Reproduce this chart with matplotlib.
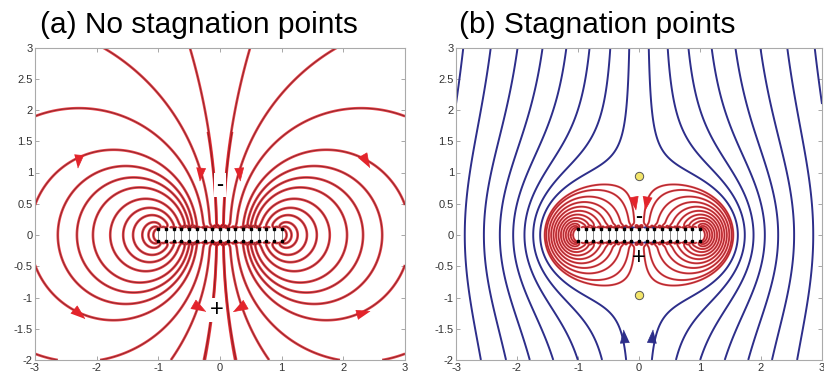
import numpy as np
import matplotlib.pyplot as plt

plt.rcParams['font.family'] = ['Liberation Sans', 'DejaVu Sans']

# double layer: negative charges on the top row, positive on the bottom row
layer_x = [-1.0, -0.875, -0.75, -0.625, -0.5, -0.375, -0.25, -0.125, 0.0,
           0.125, 0.25, 0.375, 0.5, 0.625, 0.75, 0.875, 1.0]
layer_gap = 0.1

# (a) points that the drawn field lines pass through (left half, mirrored)
lines_a_x = [-0.49, -1.9, -3.0, -3.0, -2.63, -2.32, -2.06, -1.78, -1.57,
             -1.41, -1.26, -1.16, -1.08]
lines_a_y = [3.0, 3.0, 1.9, 0.48, 0, 0, 0, 0, 0, 0, 0, 0, 0]
# short central line, drawn only up to center_top
center_pt = (-0.07, 0.5)
center_top = 1.65

# (b) uniform field added, stagnation points on the axis
stag_y = [0.95, -0.96]
blue_top_x = [0.16, 0.47, 0.81, 1.19, 1.58, 1.99, 2.43, 2.88]
red_axis_x = [-1.545, -1.52, -1.48, -1.44, -1.40, -1.36, -1.32, -1.28,
              -1.24, -1.20, -1.16, -1.12, -1.08]

# arrow heads: x, y, direction in degrees
arrows_a = [(-2.3, 1.2, -95), (2.35, 1.2, -60), (-0.32, 1.0, -95),
            (0.3, 1.0, -85), (-0.35, -1.15, -30), (0.33, -1.15, -150),
            (-2.3, -1.25, -40), (2.3, -1.25, 15)]
arrows_b_red = [(-0.08, 0.53, -80), (0.11, 0.53, -100)]
arrows_b_blue = [(-0.24, -1.63, 95), (0.21, -1.63, 85)]

RED = '#e3242b'
RED_CORE = '#7a1e24'
BLUE = '#2d2e8a'


def psi_layer(x, y):
    x = np.asarray(x, float)
    y = np.asarray(y, float)
    s = np.zeros(np.broadcast(x, y).shape)
    for xi in layer_x:
        s += np.arctan2(x - xi, -(y + layer_gap))
        s -= np.arctan2(x - xi, -(y - layer_gap))
    return s


def ey_layer(x, y):
    e = 0.0
    for xi in layer_x:
        e += (y + layer_gap) / ((x - xi) ** 2 + (y + layer_gap) ** 2)
        e -= (y - layer_gap) / ((x - xi) ** 2 + (y - layer_gap) ** 2)
    return e


gx = np.linspace(-3, 3, 1201)
gy = np.linspace(-2, 3, 1001)
X, Y = np.meshgrid(gx, gy)
in_layer = (np.abs(X) <= 1.01) & (np.abs(Y) <= layer_gap + 0.005)

E0 = -ey_layer(0.0, stag_y[0])
psi_a = psi_layer(X, Y)
psi_b = psi_a - E0 * X


def red_contour(ax, Z, levels, lw=1.9, core=0.7):
    ax.contour(X, Y, Z, levels=levels, colors=RED, linewidths=lw,
               linestyles='solid', alpha=0.85)
    ax.contour(X, Y, Z, levels=levels, colors=RED_CORE, linewidths=core,
               linestyles='solid', alpha=0.8)


def draw_layer(ax):
    ax.vlines(layer_x, -layer_gap, layer_gap, color='#888888', lw=0.7,
              zorder=4)
    ax.plot(layer_x, [layer_gap] * len(layer_x), 's', color='k', ms=1.7,
            zorder=5)
    ax.plot(layer_x, [-layer_gap] * len(layer_x), 's', color='k', ms=1.7,
            zorder=5)


def head(ang):
    a = np.deg2rad(ang)
    pts = np.array([[1.0, 0.0], [-0.7, 0.6], [-0.7, -0.6]])
    rot = np.array([[np.cos(a), -np.sin(a)], [np.sin(a), np.cos(a)]])
    return [tuple(p) for p in pts @ rot.T]


def arrow_heads(ax, arrows, color):
    for x, y, ang in arrows:
        ax.plot(x, y, marker=head(ang), color=color, ms=11, mec=color,
                mew=0.5, zorder=6)


def style_axes(ax):
    ax.set_xlim(-3, 3)
    ax.set_ylim(-2, 3)
    ax.set_xticks(np.arange(-3, 4, 1))
    ax.set_yticks(np.arange(-2, 3.01, 0.5))
    ax.set_yticklabels(['-2', '-1.5', '-1', '-0.5', '0', '0.5', '1', '1.5',
                        '2', '2.5', '3'])
    ax.set_xticklabels(['-3', '-2', '-1', '0', '1', '2', '3'])
    ax.tick_params(direction='in', length=3, width=0.6, color='#999999',
                   labelsize=8, labelcolor='#333333', pad=1.5,
                   top=True, right=True)
    ax.tick_params(axis='x', pad=2.5)
    for sp in ax.spines.values():
        sp.set_color('#aaaaaa')
        sp.set_linewidth(0.8)


fig = plt.figure(figsize=(8.24, 3.75), dpi=100)
ax1 = fig.add_axes([35 / 824, 15 / 375, 370 / 824, 312.5 / 375])
ax2 = fig.add_axes([456 / 824, 15 / 375, 366 / 824, 312.5 / 375])

# (a) field of the double layer alone
lev_a = psi_layer(np.array(lines_a_x), np.array(lines_a_y))
lev_a = np.unique(np.round(np.concatenate([lev_a, -lev_a]), 6))
Za = np.ma.masked_where(in_layer, psi_a)
red_contour(ax1, Za, lev_a)
lev_c = float(psi_layer(center_pt[0], center_pt[1]))
Zc = np.ma.masked_where(in_layer | (Y > center_top), psi_a)
red_contour(ax1, Zc, sorted([lev_c, -lev_c]))
draw_layer(ax1)
arrow_heads(ax1, arrows_a, RED)
ax1.text(0, 0.8, '-', ha='center', va='center', fontsize=15,
         fontweight='bold', zorder=7,
         bbox=dict(fc='white', ec='none', pad=2))
ax1.text(-0.05, -1.2, '+', ha='center', va='center', fontsize=17,
         zorder=7, bbox=dict(fc='white', ec='none', pad=1))
style_axes(ax1)

# (b) double layer plus uniform upward field
inside = psi_b * X > 0
rx = np.array(red_axis_x)
lev_red = psi_layer(rx, 0.0) - E0 * rx
lev_red = np.sort(np.concatenate([lev_red, -lev_red]))
bx = np.array(blue_top_x)
lev_blue = psi_layer(bx, 3.0) - E0 * bx
lev_blue = np.sort(np.concatenate([lev_blue, -lev_blue]))

Zr = np.ma.masked_where(in_layer | ~inside, psi_b)
Zb = np.ma.masked_where(in_layer | inside, psi_b)
red_contour(ax2, Zr, lev_red, lw=1.5, core=0.5)
ax2.contour(X, Y, Zb, levels=lev_blue, colors=BLUE, linewidths=1.4,
            linestyles='solid')
draw_layer(ax2)
arrow_heads(ax2, arrows_b_red, RED)
arrow_heads(ax2, arrows_b_blue, BLUE)
ax2.plot([0, 0], stag_y, 'o', ms=6, mfc='#f3e56a', mec='#555555', mew=0.7,
         zorder=7)
ax2.text(0, 0.29, '-', ha='center', va='center', fontsize=15,
         fontweight='bold', zorder=7)
ax2.text(0, -0.37, '+', ha='center', va='center', fontsize=17, zorder=7)
style_axes(ax2)

fig.text(40 / 824, 1 - 33 / 375, '(a) No stagnation points', fontsize=21.5,
         va='baseline', ha='left')
fig.text(459 / 824, 1 - 33 / 375, '(b) Stagnation points', fontsize=21.5,
         va='baseline', ha='left')

fig.savefig('out.png', dpi=100)
